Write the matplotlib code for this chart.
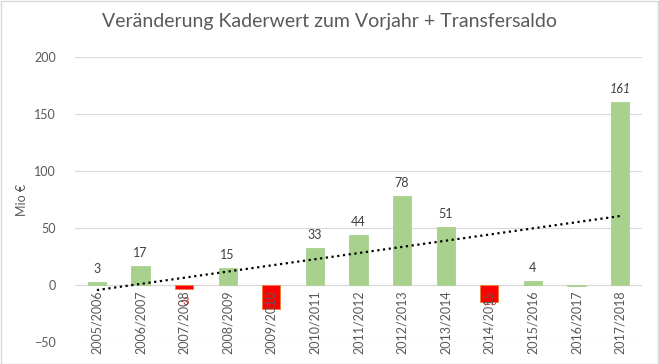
import numpy as np
import matplotlib.pyplot as plt

plt.rcParams['font.family'] = ['Lato', 'DejaVu Sans']

seasons = ['2005/2006', '2006/2007', '2007/2008', '2008/2009', '2009/2010',
           '2010/2011', '2011/2012', '2012/2013', '2013/2014', '2014/2015',
           '2015/2016', '2016/2017', '2017/2018']
values = [3, 17, -3, 15, -21, 33, 44, 78, 51, -15, 4, -1, 161]
labels = ['3', '17', '-3', '15', '-21', '33', '44', '78', '51', '-15', '4', '', '161']
# bars shown in red in the original
red_bars = [2, 4, 9]

green = '#A9D18E'
red = '#FF0000'
grey = '#595959'

fig = plt.figure(figsize=(6.59, 3.64), dpi=100)
ax = fig.add_axes([0.114, 0.06, 0.86, 0.783])

x = np.arange(len(seasons))
cols = [red if i in red_bars else green for i in x]
edges = ['#ED7D31' if i in red_bars else green for i in x]
ax.bar(x, values, width=0.42, color=cols, edgecolor=edges, linewidth=0.6, zorder=2)

# linear trend
k, d = np.polyfit(x, values, 1)
ax.plot(x, k * x + d, color='black', linestyle=(0, (1, 1.6)), linewidth=1.6, zorder=3)

for i, v in enumerate(values):
    if not labels[i]:
        continue
    if v >= 0:
        ax.annotate(labels[i], (i, v), xytext=(0, 5), textcoords='offset points',
                    ha='center', va='bottom', fontsize=9, color='#404040',
                    style='italic' if i == len(values) - 1 else 'normal', zorder=4)
    else:
        ax.annotate(labels[i], (i, 0), xytext=(0, -12), textcoords='offset points',
                    ha='center', va='center', fontsize=8, color='#D02020', zorder=1)

# category labels just under the zero line
for i, s in enumerate(seasons):
    ax.annotate(s, (i, 0), xytext=(0, -4), textcoords='offset points',
                ha='center', va='top', rotation=90, fontsize=9, color=grey, zorder=5)

ax.set_xlim(-0.5, len(seasons) - 0.5)
ax.set_ylim(-50, 200)
ax.set_yticks(range(-50, 201, 50))
ax.set_xticks([])
ax.yaxis.grid(True, color='#D9D9D9', linewidth=0.8)
ax.set_axisbelow(True)
for sp in ax.spines.values():
    sp.set_visible(False)
ax.axhline(0, color='#D9D9D9', linewidth=0.8, zorder=1)
ax.tick_params(axis='y', length=0, labelsize=9, labelcolor=grey, pad=14)
ax.set_ylabel('Mio €', fontsize=9, color=grey, labelpad=4)

fig.text(0.5, 0.94, 'Veränderung Kaderwert zum Vorjahr + Transfersaldo',
         ha='center', va='center', fontsize=14, color=grey)

fig.patches.append(plt.Rectangle((0.001, 0.001), 0.997, 0.997, transform=fig.transFigure,
                                 fill=False, edgecolor='#D9D9D9', linewidth=1))

fig.savefig('out.png', dpi=100)
